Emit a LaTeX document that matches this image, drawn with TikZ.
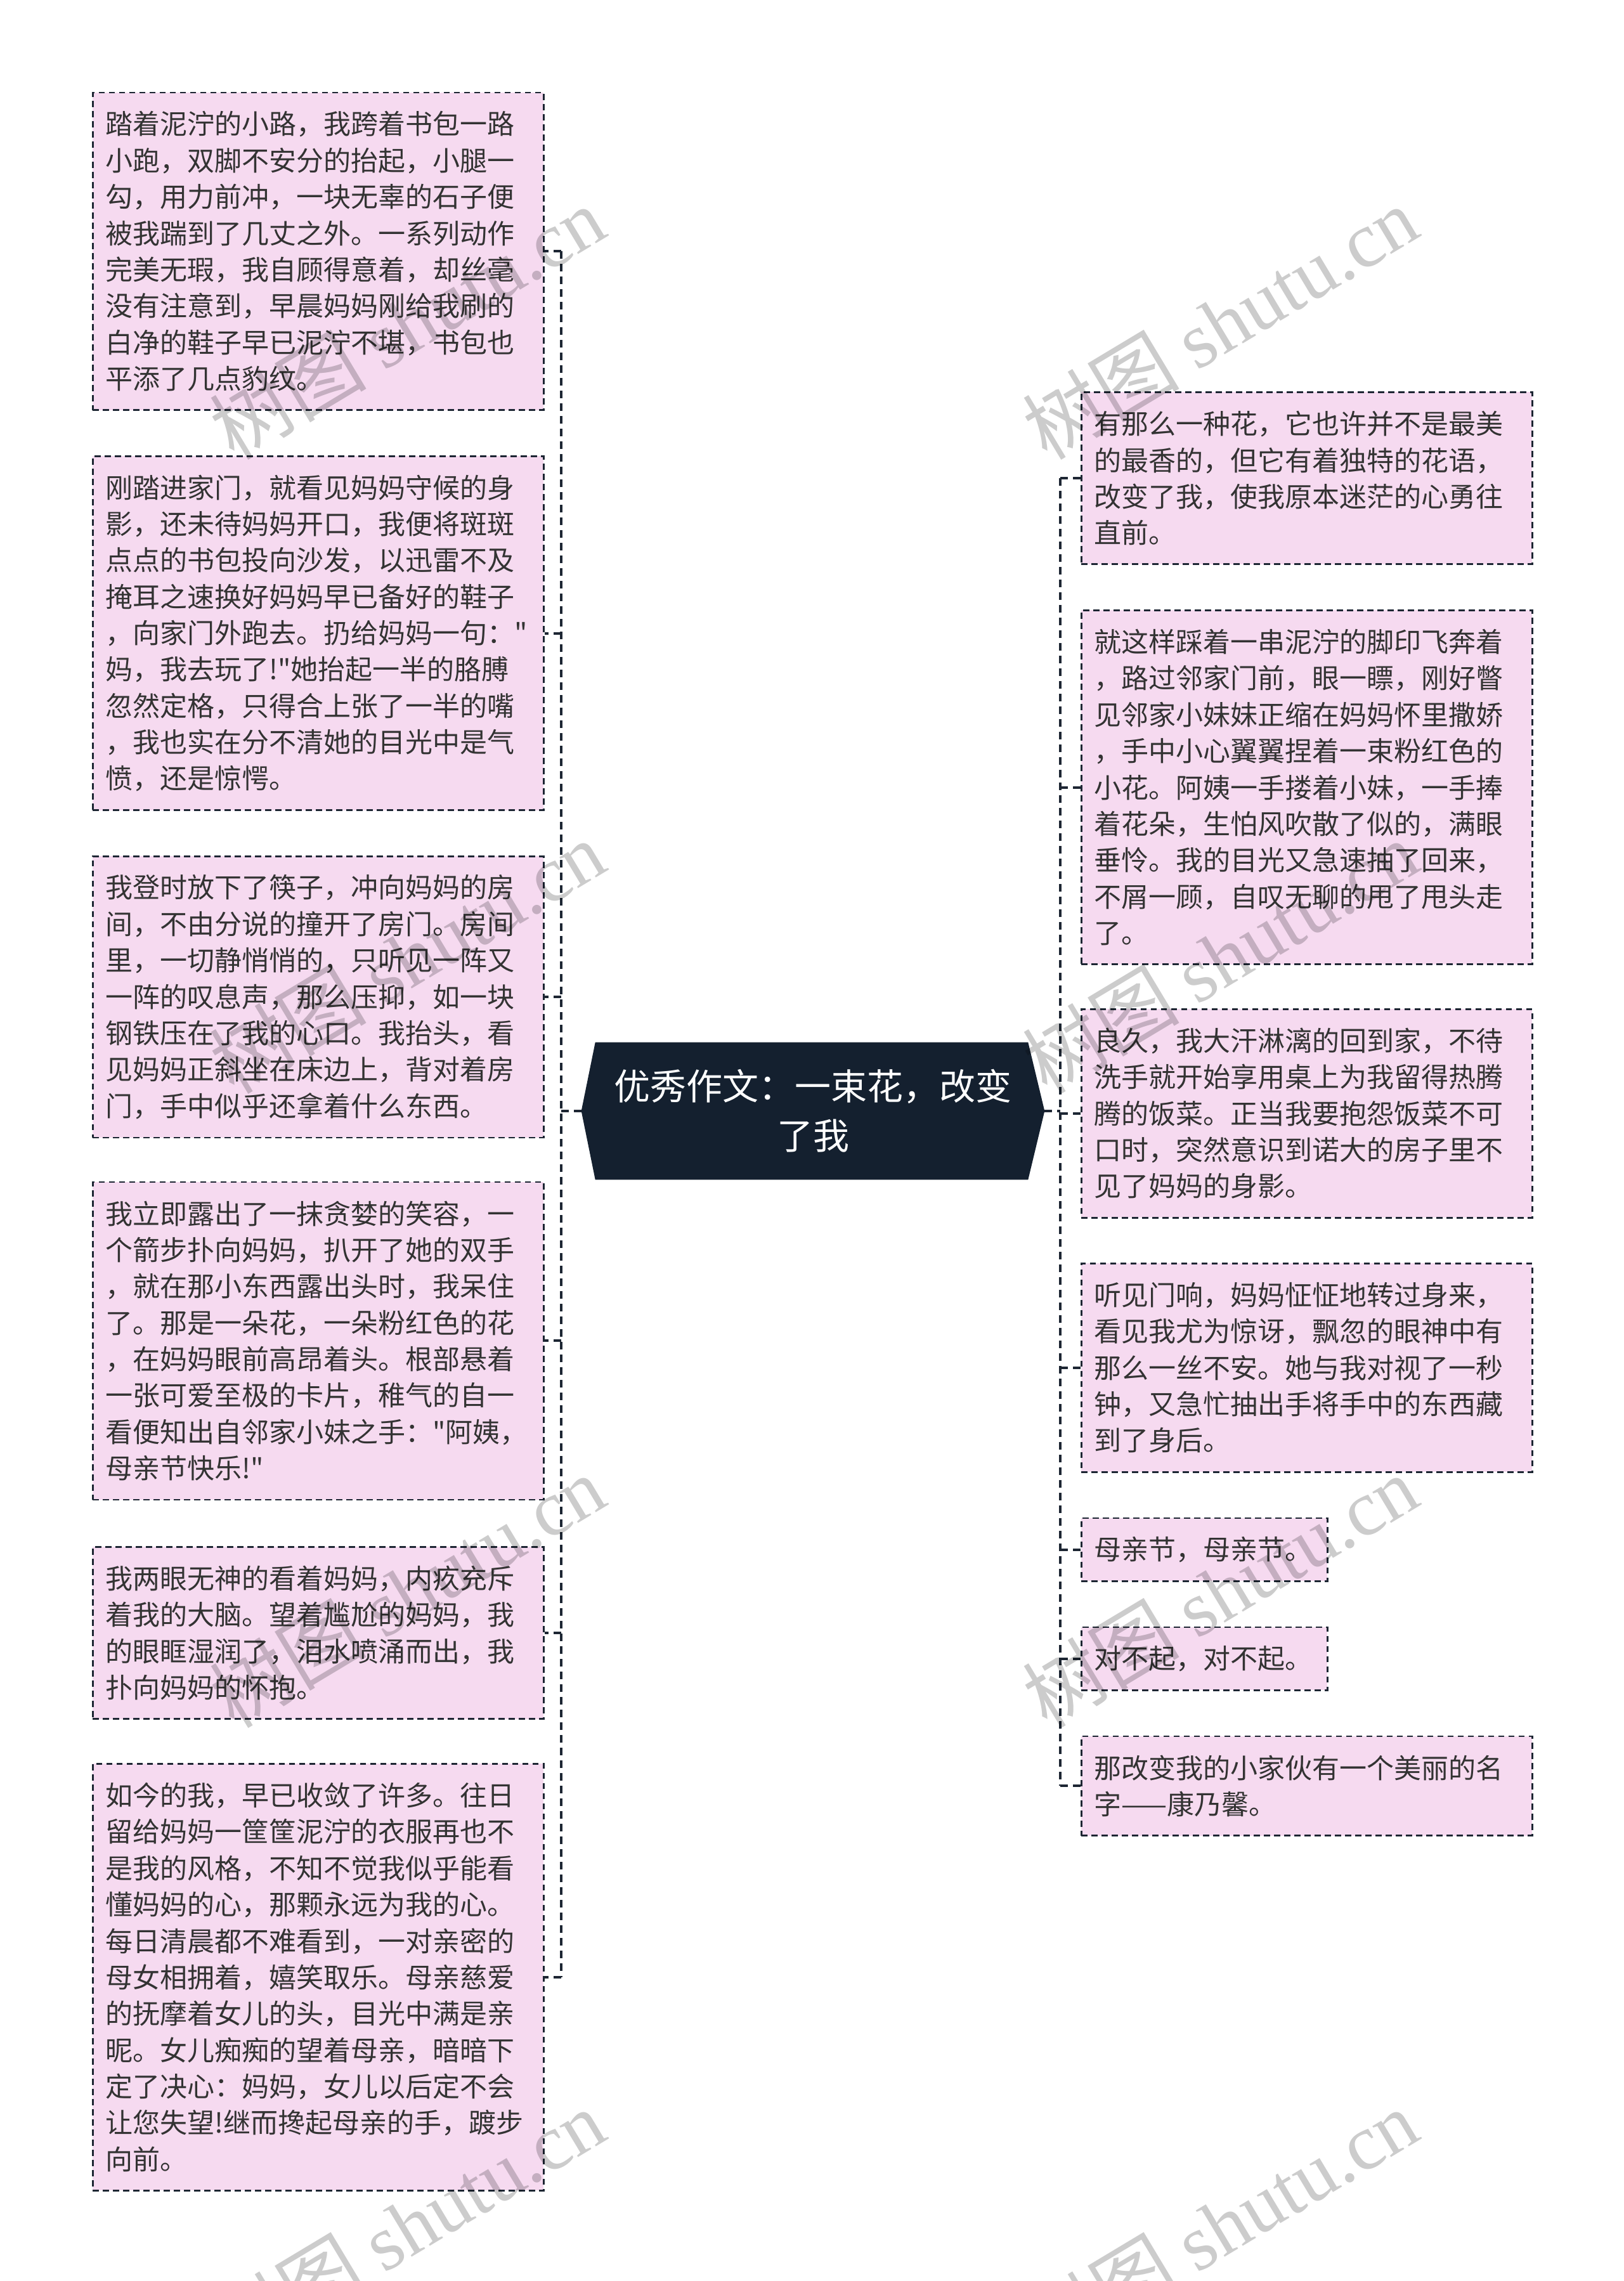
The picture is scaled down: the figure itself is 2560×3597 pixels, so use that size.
\documentclass[tikz,border=0pt]{standalone}
\usepackage{fontspec}
\newfontfamily\cjkfont{Noto Sans CJK SC}
\newfontfamily\wmlatin{Liberation Serif}
\usetikzlibrary{backgrounds}
\definecolor{boxfill}{HTML}{F6DAF0}
\definecolor{linec}{HTML}{1D2633}
\definecolor{navy}{HTML}{14202F}
\definecolor{txt}{HTML}{333333}
\begin{document}
\begin{tikzpicture}[x=0.25pt,y=-0.25pt,
  tbox/.style={draw=linec, line width=0.7pt, dash pattern=on 2.4pt off 1.6pt,
    fill=boxfill, text=txt, font=\cjkfont\fontsize{10.75pt}{14.34pt}\selectfont,
    align=left, inner xsep=5pt, inner ysep=0pt, anchor=north west},
  widebox/.style={text width=167.75pt},
  narrowbox/.style={text width=87pt},
  nl/.style={minimum height=#1*14.34pt+10.5pt},
  cbox/.style={text=white, font=\cjkfont\fontsize{14.25pt}{19.5pt}\selectfont,
    align=center, minimum width=182.25pt, minimum height=53.75pt, inner sep=0pt},
  conn/.style={draw=linec, line width=1pt, dash pattern=on 3pt off 2pt},
  wm/.style={rotate=31, text=black, text opacity=0.2, inner sep=0pt,
    font=\cjkfont\fontsize{31pt}{31pt}\selectfont}
]
\useasboundingbox (0,0) rectangle (2560,3597);

% central topic
\node[cbox] (c) at (1282,1752) {优秀作文：一束花，改变\\了我};
\begin{scope}[on background layer]
\fill[white] (0,0) rectangle (2560,3597);
\fill[navy] (c.west) -- ([xshift=5.5pt]c.north west) -- ([xshift=-6.5pt]c.north east)
  -- (c.east) -- ([xshift=-6.5pt]c.south east) -- ([xshift=5.5pt]c.south west) -- cycle;
\end{scope}

% left boxes
\node[tbox,widebox,nl=8] (L1) at (145,144.5) {踏着泥泞的小路，我跨着书包一路\\小跑，双脚不安分的抬起，小腿一\\勾，用力前冲，一块无辜的石子便\\被我踹到了几丈之外。一系列动作\\完美无瑕，我自顾得意着，却丝毫\\没有注意到，早晨妈妈刚给我刷的\\白净的鞋子早已泥泞不堪，书包也\\平添了几点豹纹。};
\node[tbox,widebox,nl=9] (L2) at (145,718) {刚踏进家门，就看见妈妈守候的身\\影，还未待妈妈开口，我便将斑斑\\点点的书包投向沙发，以迅雷不及\\掩耳之速换好妈妈早已备好的鞋子\\，向家门外跑去。扔给妈妈一句："\\妈，我去玩了!"她抬起一半的胳膊\\忽然定格，只得合上张了一半的嘴\\，我也实在分不清她的目光中是气\\愤，还是惊愕。};
\node[tbox,widebox,nl=7] (L3) at (145,1349) {我登时放下了筷子，冲向妈妈的房\\间，不由分说的撞开了房门。房间\\里，一切静悄悄的，只听见一阵又\\一阵的叹息声，那么压抑，如一块\\钢铁压在了我的心口。我抬头，看\\见妈妈正斜坐在床边上，背对着房\\门，手中似乎还拿着什么东西。};
\node[tbox,widebox,nl=8] (L4) at (145,1862.6) {我立即露出了一抹贪婪的笑容，一\\个箭步扑向妈妈，扒开了她的双手\\，就在那小东西露出头时，我呆住\\了。那是一朵花，一朵粉红色的花\\，在妈妈眼前高昂着头。根部悬着\\一张可爱至极的卡片，稚气的自一\\看便知出自邻家小妹之手："阿姨，\\母亲节快乐!"};
\node[tbox,widebox,nl=4] (L5) at (145,2438) {我两眼无神的看着妈妈，内疚充斥\\着我的大脑。望着尴尬的妈妈，我\\的眼眶湿润了，泪水喷涌而出，我\\扑向妈妈的怀抱。};
\node[tbox,widebox,nl=11] (L6) at (145,2780) {如今的我，早已收敛了许多。往日\\留给妈妈一筐筐泥泞的衣服再也不\\是我的风格，不知不觉我似乎能看\\懂妈妈的心，那颗永远为我的心。\\每日清晨都不难看到，一对亲密的\\母女相拥着，嬉笑取乐。母亲慈爱\\的抚摩着女儿的头，目光中满是亲\\昵。女儿痴痴的望着母亲，暗暗下\\定了决心：妈妈，女儿以后定不会\\让您失望!继而搀起母亲的手，踱步\\向前。};

% right boxes
\node[tbox,widebox,nl=4] (R1) at (1704,617) {有那么一种花，它也许并不是最美\\的最香的，但它有着独特的花语，\\改变了我，使我原本迷茫的心勇往\\直前。};
\node[tbox,widebox,nl=9] (R2) at (1704,961) {就这样踩着一串泥泞的脚印飞奔着\\，路过邻家门前，眼一瞟，刚好瞥\\见邻家小妹妹正缩在妈妈怀里撒娇\\，手中小心翼翼捏着一束粉红色的\\小花。阿姨一手搂着小妹，一手捧\\着花朵，生怕风吹散了似的，满眼\\垂怜。我的目光又急速抽了回来，\\不屑一顾，自叹无聊的甩了甩头走\\了。};
\node[tbox,widebox,nl=5] (R3) at (1704,1590) {良久，我大汗淋漓的回到家，不待\\洗手就开始享用桌上为我留得热腾\\腾的饭菜。正当我要抱怨饭菜不可\\口时，突然意识到诺大的房子里不\\见了妈妈的身影。};
\node[tbox,widebox,nl=5] (R4) at (1704,1991) {听见门响，妈妈怔怔地转过身来，\\看见我尤为惊讶，飘忽的眼神中有\\那么一丝不安。她与我对视了一秒\\钟，又急忙抽出手将手中的东西藏\\到了身后。};
\node[tbox,narrowbox,nl=1] (R5) at (1704,2392.6) {母亲节，母亲节。};
\node[tbox,narrowbox,nl=1] (R6) at (1704,2564.6) {对不起，对不起。};
\node[tbox,widebox,nl=2] (R7) at (1704,2736.6) {那改变我的小家伙有一个美丽的名\\字——康乃馨。};

% connectors
\coordinate (lt) at (885,1752);
\coordinate (rt) at (1672,1752);
\draw[conn] (c.west) -- (lt);
\draw[conn] (lt |- L1.east) -- (lt |- L6.east);
\foreach \n in {L1,L2,L3,L4,L5,L6} {\draw[conn] (lt |- \n.east) -- (\n.east);}
\draw[conn] (c.east) -- (rt);
\draw[conn] (rt |- R1.west) -- (rt |- R7.west);
\foreach \n in {R1,R2,R3,R4,R5,R6,R7} {\draw[conn] (rt |- \n.west) -- (\n.west);}

% watermarks
\foreach \yy in {509,1509,2509,3509} {
  \node[wm] (wml\yy) at (642,\yy) {树图 {\wmlatin shutu.cn}};
  \node[wm] (wmr\yy) at (1924,\yy) {树图 {\wmlatin shutu.cn}};
}
\end{tikzpicture}
\end{document}
